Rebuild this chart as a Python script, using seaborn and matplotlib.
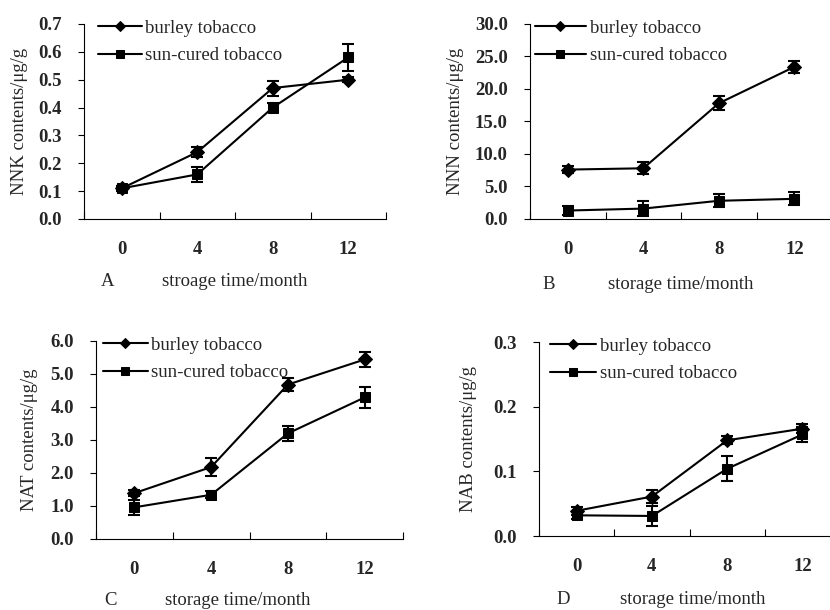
import numpy as np
import pandas as pd
import matplotlib
matplotlib.use("Agg")
import matplotlib.pyplot as plt
import seaborn as sns

# ==========================================
# DATA
# ==========================================
months = ["0", "4", "8", "12"]
series = ["burley tobacco", "sun-cured tobacco"]

nnk_burley = [0.11, 0.24, 0.47, 0.50]
nnk_burley_err = [0.010, 0.018, 0.027, 0.010]
nnk_sun = [0.11, 0.16, 0.40, 0.58]
nnk_sun_err = [0.010, 0.028, 0.015, 0.049]

nnn_burley = [7.6, 7.8, 17.8, 23.4]
nnn_burley_err = [0.5, 0.9, 1.1, 0.9]
nnn_sun = [1.3, 1.6, 2.8, 3.1]
nnn_sun_err = [0.7, 1.1, 1.0, 1.0]

nat_burley = [1.39, 2.18, 4.68, 5.44]
nat_burley_err = [0.10, 0.28, 0.20, 0.23]
nat_sun = [0.96, 1.34, 3.20, 4.29]
nat_sun_err = [0.23, 0.10, 0.23, 0.33]

nab_burley = [0.039, 0.061, 0.148, 0.166]
nab_burley_err = [0.006, 0.010, 0.006, 0.007]
nab_sun = [0.032, 0.031, 0.104, 0.157]
nab_sun_err = [0.005, 0.015, 0.019, 0.012]

panels = [
    ("A", "NNK contents/μg/g", "stroage time/month",
     nnk_burley, nnk_burley_err, nnk_sun, nnk_sun_err,
     [0.0, 0.1, 0.2, 0.3, 0.4, 0.5, 0.6, 0.7]),
    ("B", "NNN contents/μg/g", "storage time/month",
     nnn_burley, nnn_burley_err, nnn_sun, nnn_sun_err,
     [0.0, 5.0, 10.0, 15.0, 20.0, 25.0, 30.0]),
    ("C", "NAT contents/μg/g", "storage time/month",
     nat_burley, nat_burley_err, nat_sun, nat_sun_err,
     [0.0, 1.0, 2.0, 3.0, 4.0, 5.0, 6.0]),
    ("D", "NAB contents/μg/g", "storage time/month",
     nab_burley, nab_burley_err, nab_sun, nab_sun_err,
     [0.0, 0.1, 0.2, 0.3]),
]

# layout: axes rect, ylabel x, letter x, xlabel x, bottom text y, legend x, handle length
layout = {
    "A": ([0.1012, 0.6410, 0.3639, 0.3197], -0.185, 0.079, 0.50, -0.322, 0.02, 2.35),
    "B": ([0.6386, 0.6410, 0.3639, 0.3197], -0.218, 0.063, 0.50, -0.338, -0.01, 2.75),
    "C": ([0.1157, 0.1164, 0.3699, 0.3246], -0.189, 0.046, 0.463, -0.312, -0.003, 2.4),
    "D": ([0.6494, 0.1213, 0.3627, 0.3180], -0.206, 0.080, 0.51, -0.325, 0.01, 2.5),
}

sns.set_theme(style="ticks")
plt.rcParams["font.family"] = ["Liberation Serif", "DejaVu Serif"]
plt.rcParams["axes.linewidth"] = 0.8
FS = 13.5

fig = plt.figure(figsize=(8.3, 6.1), dpi=100)

for letter, ylab, xlab, b, be, s, se, yticks in panels:
    rect, ylx, ltx, xlx, bty, lgx, hlen = layout[letter]
    ax = fig.add_axes(rect)

    df = pd.DataFrame({
        "pos": list(range(len(months))) * 2,
        "value": b + s,
        "err": be + se,
        "tobacco": [series[0]] * len(months) + [series[1]] * len(months),
    })

    sns.lineplot(data=df, x="pos", y="value", hue="tobacco", style="tobacco",
                 markers={series[0]: "D", series[1]: "s"}, dashes=False,
                 palette=["black", "black"], linewidth=1.5, markersize=7,
                 markeredgecolor="black", errorbar=None, sort=False, ax=ax)

    for name in series:
        sub = df[df["tobacco"] == name]
        ax.errorbar(sub["pos"], sub["value"], yerr=sub["err"], fmt="none",
                    ecolor="black", elinewidth=1.5, capsize=4.5, capthick=1.5)

    # legend
    handles, labels = ax.get_legend_handles_labels()
    ax.legend(handles, labels, loc="upper left", bbox_to_anchor=(lgx, 1.06),
              frameon=False, fontsize=FS, handlelength=hlen, handletextpad=0.2,
              labelspacing=0.55, markerscale=0.8, borderaxespad=0)

    # x axis: category style
    ax.set_xlim(-0.5, len(months) - 0.5)
    ax.set_xticks(range(len(months)))
    ax.set_xticklabels(months)
    ax.set_xticks(np.arange(-0.5, len(months), 1), minor=True)
    ax.tick_params(axis="x", which="major", length=0, pad=15.8, labelsize=FS)
    ax.tick_params(axis="x", which="minor", direction="in", length=5,
                   width=0.8, color="black")

    # y axis
    ax.set_ylim(0, yticks[-1])
    ax.set_yticks(yticks)
    ax.set_yticklabels([f"{t:.1f}" for t in yticks])
    ax.tick_params(axis="y", direction="out", length=4, width=0.8,
                   pad=12, labelsize=FS, color="black")
    for t in ax.get_xticklabels() + ax.get_yticklabels():
        t.set_fontweight("bold")

    ax.set_xlabel("")
    ax.set_ylabel(ylab, fontsize=FS)
    ax.yaxis.set_label_coords(ylx, 0.5)

    ax.text(ltx, bty, letter, transform=ax.transAxes, ha="center",
            va="center", fontsize=FS)
    ax.text(xlx, bty, xlab, transform=ax.transAxes, ha="center",
            va="center", fontsize=FS)

    sns.despine(ax=ax)
    for sp in ["left", "bottom"]:
        ax.spines[sp].set_color("black")

fig.savefig("out.png", dpi=100)
